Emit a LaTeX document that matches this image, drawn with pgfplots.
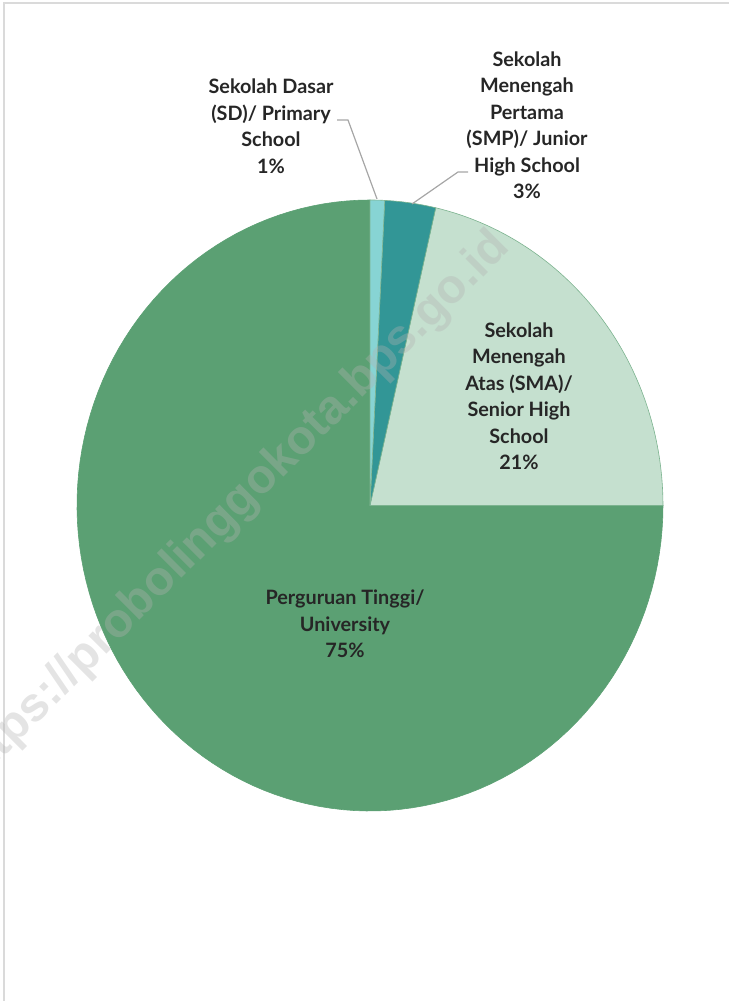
\documentclass[border=0pt]{standalone}
\usepackage{pgfplots}
\pgfplotsset{compat=1.18}
\usepackage{fontspec}
\setmainfont{Lato}
\newfontfamily\wmfont{Liberation Sans}
\definecolor{PTgreen}{RGB}{91,160,115}
\definecolor{SMAgreen}{RGB}{197,224,207}
\definecolor{SMPteal}{RGB}{50,150,150}
\definecolor{SDcyan}{RGB}{135,212,212}
\definecolor{lbl}{RGB}{38,38,38}
\definecolor{frame}{RGB}{218,218,218}
\definecolor{leader}{RGB}{166,166,166}
% shares (%)
\def\vSD{0.8}
\def\vSMP{2.8}
\def\vSMA{21.4}
\def\vPT{75.0}
\begin{document}
\begin{tikzpicture}
\pgfmathsetmacro{\aA}{90}
\pgfmathsetmacro{\aB}{\aA-3.6*\vSD}
\pgfmathsetmacro{\aC}{\aB-3.6*\vSMP}
\pgfmathsetmacro{\aD}{\aC-3.6*\vSMA}
\pgfmathsetmacro{\aE}{\aD-3.6*\vPT}
\begin{axis}[name=ax,
  width=729pt, height=1001pt, scale only axis,
  xmin=0, xmax=729, ymin=0, ymax=1001,
  hide axis, clip=false]
% frame
\addplot[frame, line width=2pt] coordinates {(4,0) (4,998) (729,998)};
% slices
\addplot[fill=PTgreen, draw=PTgreen, line width=0.6pt, domain=\aE:\aD, samples=120, variable=\t]
  ({370+293*cos(\t)},{495.5+305.5*sin(\t)}) -- (axis cs:370,495.5) -- cycle;
\addplot[fill=SMAgreen, draw=PTgreen!80!white, line width=0.6pt, domain=\aD:\aC, samples=60, variable=\t]
  ({370+293*cos(\t)},{495.5+305.5*sin(\t)}) -- (axis cs:370,495.5) -- cycle;
\addplot[fill=SMPteal, draw=PTgreen!80!white, line width=0.6pt, domain=\aC:\aB, samples=20, variable=\t]
  ({370+293*cos(\t)},{495.5+305.5*sin(\t)}) -- (axis cs:370,495.5) -- cycle;
\addplot[fill=SDcyan, draw=PTgreen!80!white, line width=0.6pt, domain=\aB:\aA, samples=10, variable=\t]
  ({370+293*cos(\t)},{495.5+305.5*sin(\t)}) -- (axis cs:370,495.5) -- cycle;
% leader lines
\addplot[leader, line width=1.2pt] coordinates {(337,881) (348,881) (377,802)};
\addplot[leader, line width=1.2pt] coordinates {(468,829) (458,829) (412,797)};
% watermark
\node[rotate=45, text=gray!60, opacity=0.35, font=\wmfont\bfseries\fontsize{48}{48}\selectfont]
  at (axis cs:232,490) {https://probolinggokota.bps.go.id};
% labels
\tikzset{lab/.style={align=center, text=lbl, font=\bfseries\fontsize{19.8}{26.5}\selectfont}}
\node[lab] at (axis cs:271,875) {Sekolah Dasar\\(SD)/ Primary\\School\\1\%};
\node[lab] at (axis cs:527,876) {Sekolah\\Menengah\\Pertama\\(SMP)/ Junior\\High School\\3\%};
\node[lab] at (axis cs:519,605) {Sekolah\\Menengah\\Atas (SMA)/\\Senior High\\School\\21\%};
\node[lab] at (axis cs:345,377) {Perguruan Tinggi/\\University\\75\%};
\end{axis}
\pgfresetboundingbox
\path (ax.south west) rectangle (ax.north east);
\end{tikzpicture}
\end{document}
